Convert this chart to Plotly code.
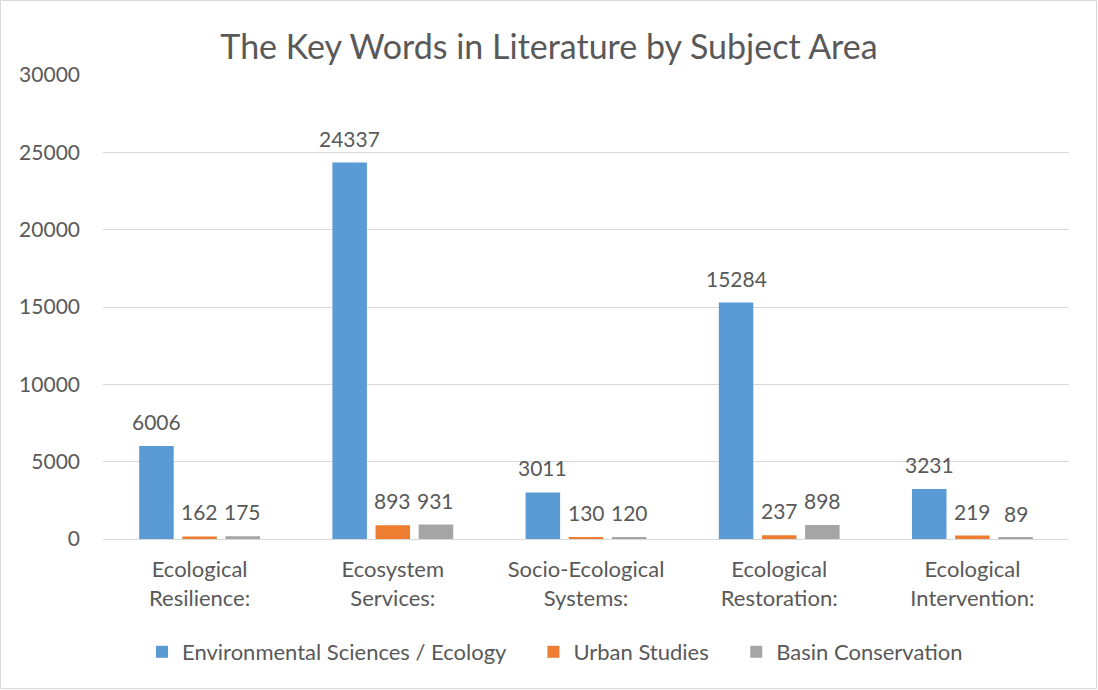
import plotly.graph_objects as go

# Subject-area categories (two-line tick labels)
categories = [
    "Ecological<br>Resilience:",
    "Ecosystem<br>Services:",
    "Socio-Ecological<br>Systems:",
    "Ecological<br>Restoration:",
    "Ecological<br>Intervention:",
]

series_names = ["Environmental Sciences / Ecology", "Urban Studies", "Basin Conservation"]
env_sciences = [6006, 24337, 3011, 15284, 3231]
urban_studies = [162, 893, 130, 237, 219]
basin_conservation = [175, 931, 120, 898, 89]

colors = ["#5B9BD5", "#ED7D31", "#A5A5A5"]
text_color = "#595959"
font_family = "Lato, 'Open Sans', sans-serif"

W, H = 1098, 690
margin = dict(l=103, r=29, t=75, b=151)
plot_w = W - margin["l"] - margin["r"]
plot_h = H - margin["t"] - margin["b"]

# extra blank padding after legend entries to widen spacing between items
legend_pad = "\u00a0" * 4

fig = go.Figure()
all_series = [env_sciences, urban_studies, basin_conservation]
for k, (name, vals, col) in enumerate(zip(series_names, all_series, colors)):
    fig.add_trace(go.Bar(
        name=name + (legend_pad if k < len(series_names) - 1 else ""),
        x=categories, y=vals, marker=dict(color=col, line=dict(width=0)),
    ))

bargap = 0.33
bargroupgap = 0.2
slot_px = plot_w / len(categories) * (1 - bargap) / 3

# Value labels above each bar
for i, vals in enumerate(all_series):
    for cat, v in zip(categories, vals):
        fig.add_annotation(
            x=cat, y=v, text=str(v), showarrow=False,
            xshift=(i - 1) * slot_px, yshift=10, yanchor="bottom",
            font=dict(size=21, color=text_color, family=font_family),
        )

# Light border around the whole chart
fig.add_shape(
    type="rect", xref="paper", yref="paper",
    x0=(0.5 - margin["l"]) / plot_w, x1=(W - 1.5 - margin["l"]) / plot_w,
    y0=-(margin["b"] - 1.5) / plot_h, y1=1 + (margin["t"] - 0.5) / plot_h,
    line=dict(color="#D9D9D9", width=1), fillcolor="rgba(0,0,0,0)", layer="below",
)

fig.update_layout(
    width=W, height=H, margin=margin,
    paper_bgcolor="white", plot_bgcolor="white",
    barmode="group", bargap=bargap, bargroupgap=bargroupgap,
    font=dict(family=font_family, size=21, color=text_color),
    title=dict(
        text="The Key Words in Literature by Subject Area",
        x=0.5, xanchor="center", xref="container",
        y=1 - 47 / H, yanchor="middle", yref="container",
        font=dict(size=34, color=text_color, family=font_family),
    ),
    legend=dict(
        orientation="h", x=0.5 - 31 / plot_w, xanchor="center",
        y=-113 / plot_h, yanchor="middle",
        font=dict(size=22, color=text_color, family=font_family),
        itemclick=False, traceorder="normal",
    ),
    yaxis=dict(
        range=[0, 30000], dtick=5000, tickformat="d",
        showgrid=True, gridcolor="#D9D9D9", gridwidth=1,
        zeroline=False, showline=False, ticks="", ticklabelstandoff=22,
        tickfont=dict(size=21, color=text_color),
    ),
    xaxis=dict(
        showline=True, linecolor="#D9D9D9", linewidth=1, ticks="",
        ticklabelstandoff=11, tickfont=dict(size=22, color=text_color),
    ),
)

fig.write_html("out.html")
